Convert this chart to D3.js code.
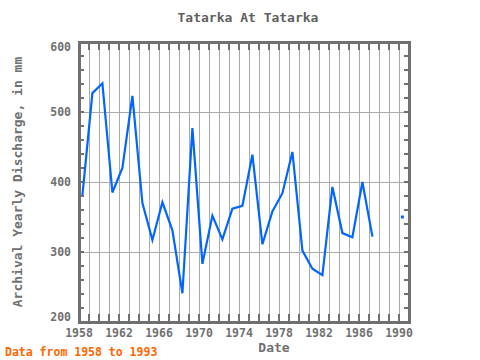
<!DOCTYPE html>
<html><head><meta charset="utf-8">
<script src="https://cdn.jsdelivr.net/npm/d3@7"></script>
<style>body{margin:0;background:#fff}svg{display:block}text{font-family:"DejaVu Sans Mono",monospace}</style>
</head><body>
<script>
const years = [1958,1959,1960,1961,1962,1963,1964,1965,1966,1967,1968,1969,1970,1971,1972,1973,1974,1975,1976,1977,1978,1979,1980,1981,1982,1983,1984,1985,1986,1987,1988,1989,1990];
const discharge = [381,527,541,385,420,523,370,317,371,331,241,477,283,352,318,362,366,439,311,358,384,443,302,276,267,393,327,321,400,322,null,null,350];
const xTicks = [1958,1962,1966,1970,1974,1978,1982,1986,1990];
const yTicks = [200,300,400,500,600];

const W=480,H=360, L=79, R=409, T=42, B=322;
const svg=d3.select("body").append("svg").attr("width",W).attr("height",H);
const x=d3.scaleLinear().domain([1958,1991]).range([L,R]);
const y=d3.scaleLinear().domain([200,600]).range([B,T]);
const data=years.map((yr,i)=>({t:yr+0.34,v:discharge[i]}));
const gridC="#aaaaaa", axC="#707070", txtC="#707070";

svg.append("g").selectAll("line").data(d3.range(1959,1991)).join("line")
 .attr("x1",d=>x(d)).attr("x2",d=>x(d)).attr("y1",T).attr("y2",B)
 .attr("stroke",gridC).attr("shape-rendering","crispEdges");
svg.append("g").selectAll("line").data([300,400,500]).join("line")
 .attr("x1",L).attr("x2",R).attr("y1",d=>y(d)).attr("y2",d=>y(d))
 .attr("stroke",gridC).attr("shape-rendering","crispEdges");

const yr=d3.range(1959,1991);
svg.append("g").selectAll("line").data(yr).join("line")
 .attr("x1",d=>x(d)).attr("x2",d=>x(d)).attr("y1",T).attr("y2",T+8)
 .attr("stroke",axC).attr("stroke-width",2).attr("shape-rendering","crispEdges");
svg.append("g").selectAll("line").data(yr).join("line")
 .attr("x1",d=>x(d)).attr("x2",d=>x(d)).attr("y1",B-8).attr("y2",B)
 .attr("stroke",axC).attr("stroke-width",2).attr("shape-rendering","crispEdges");
const minor=d3.range(220,600,20);
svg.append("g").selectAll("line").data(minor).join("line")
 .attr("x1",L).attr("x2",L+5).attr("y1",d=>y(d)).attr("y2",d=>y(d))
 .attr("stroke",axC).attr("stroke-width",2).attr("shape-rendering","crispEdges");
svg.append("g").selectAll("line").data(minor).join("line")
 .attr("x1",R-5).attr("x2",R).attr("y1",d=>y(d)).attr("y2",d=>y(d))
 .attr("stroke",axC).attr("stroke-width",2).attr("shape-rendering","crispEdges");

svg.append("rect").attr("x",L).attr("y",T).attr("width",R-L).attr("height",B-T)
 .attr("fill","none").attr("stroke",axC).attr("stroke-width",3).attr("shape-rendering","crispEdges");

const line=d3.line().defined(d=>d.v!=null).x(d=>x(d.t)).y(d=>y(d.v));
svg.append("path").datum(data).attr("d",line).attr("fill","none")
 .attr("stroke","#0066ff").attr("stroke-width",2.2);
const iso=data.filter((d,i)=>d.v!=null && (i===0||data[i-1].v==null) && (i===data.length-1||data[i+1].v==null));
svg.append("g").selectAll("rect").data(iso).join("rect")
 .attr("x",d=>x(d.t)-1.5).attr("y",d=>y(d.v)-1.5).attr("width",3).attr("height",3).attr("fill","#0066ff");

svg.append("g").selectAll("text").data(xTicks).join("text")
 .attr("x",d=>x(d)).attr("y",337).attr("text-anchor","middle")
 .attr("font-size",11.5).attr("font-weight","bold").attr("fill",txtC).text(d=>d);
svg.append("g").selectAll("text").data(yTicks).join("text")
 .attr("x",71).attr("y",d=>Math.min(Math.max(y(d)+4,51),321)).attr("text-anchor","end")
 .attr("font-size",11.5).attr("font-weight","bold").attr("fill",txtC).text(d=>d);

svg.append("text").attr("x",248).attr("y",22).attr("text-anchor","middle")
 .attr("font-size",13).attr("font-weight","bold").attr("fill","#606060").text("Tatarka At Tatarka");
svg.append("text").attr("x",274).attr("y",352).attr("text-anchor","middle")
 .attr("font-size",13).attr("font-weight","bold").attr("fill",txtC).text("Date");
svg.append("text").attr("transform","translate(22,182) rotate(-90)").attr("text-anchor","middle")
 .attr("font-size",13).attr("font-weight","bold").attr("fill",txtC).text("Archival Yearly Discharge, in mm");
svg.append("text").attr("x",5).attr("y",356)
 .attr("font-size",11.5).attr("font-weight","bold").attr("fill","#ff6600").text("Data from 1958 to 1993");
</script>
</body></html>
